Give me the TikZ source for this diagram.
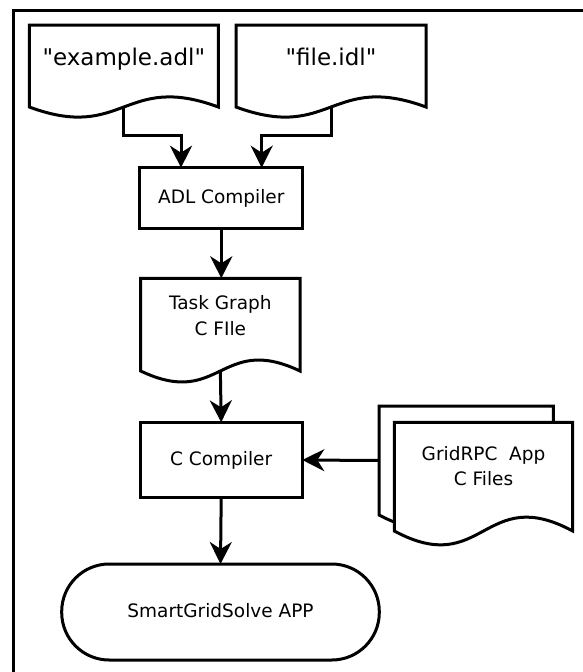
\documentclass[tikz,border=0pt]{standalone}
\usepackage{fontspec}
\setmainfont[Ligatures=TeXOff]{DejaVu Sans}
\usetikzlibrary{arrows.meta,calc}
\tikzset{
 boxn/.style={draw, line width=3pt, fill=white, inner sep=0pt, outer sep=0pt, rectangle},
 docn/.style={inner sep=0pt, outer sep=0pt, rectangle},
 big/.style={font=\fontsize{23}{27}\selectfont, anchor=base, inner sep=0pt},
 small/.style={font=\fontsize{18.5}{22}\selectfont, anchor=base, inner sep=0pt},
 arr/.style={line width=3pt, -{Stealth[length=22pt,width=22pt,inset=7pt]}},
 docline/.style={line width=3pt, line join=miter, fill=white},
}
\newcommand\docpath[2]{%
 \draw[docline] (#1.south west) -- (#1.north west) -- (#1.north east) -- (#1.south east)
   .. controls ($(#1.south)+(0,-#2)$) and ($(#1.south)+(0,#2)$) .. (#1.south west) -- cycle;}
\begin{document}
\begin{tikzpicture}[x=1pt,y=-1pt]
\useasboundingbox (0,0) rectangle (583,672);
\begin{scope}
 \clip (0,0) rectangle (583,672);
 \draw[line width=3pt] (13.3,10) rectangle (600,690);
\end{scope}

% documents
\node[docn, minimum width=189pt, minimum height=82pt] (d1) at (123.8,66) {};
\node[docn, minimum width=190pt, minimum height=82pt] (d2) at (331,66) {};
\node[docn, minimum width=159.3pt, minimum height=92.7pt] (tg) at (220.35,324.65) {};
\node[docn, minimum width=174.3pt, minimum height=109pt] (gb) at (466.15,460.5) {};
\node[docn, minimum width=178.4pt, minimum height=108.7pt] (gf) at (483.5,476.65) {};
\docpath{d1}{35}
\docpath{d2}{35}
\docpath{tg}{38}
\docpath{gb}{46}
\docpath{gf}{48}

% boxes
\node[boxn, minimum width=162.7pt, minimum height=60.6pt] (adl) at (221.3,198) {};
\node[boxn, minimum width=162.3pt, minimum height=75.4pt] (cc) at (221.2,460) {};
\node[boxn, rounded corners=47.5pt, minimum width=317.6pt, minimum height=96pt] (app) at (220.5,612) {};

% texts
\node[big] (t1) at (123.8,65) {"example.adl"};
\node[big] (t2) at (331,65) {"file.idl"};
\node[small] (t3) at (221.3,203.3) {ADL Compiler};
\node[small] (t4) at (220.35,309.3) {Task Graph};
\node[small] (t5) at (220.35,335) {C FIle};
\node[small] (t6) at (221.2,465) {C Compiler};
\node[small] (t7) at (483.5,460) {GridRPC\ \ App};
\node[small] (t8) at (483.5,485) {C Files};
\node[small] (t9) at (220.5,617.3) {SmartGridSolve APP};

% connectors
\draw[arr] (d1.south) -- ++(0,28) -| ($(adl.north)+(-40.3,0)$);
\draw[arr] (d2.south) -- ++(0,28) -| ($(adl.north)+(40.4,0)$);
\draw[arr] (adl.south) -- (adl.south |- tg.north);
\draw[arr] (tg.south) -- (cc.north);
\draw[arr] (gb.west) -- (cc.east);
\draw[arr] (cc.south) -- (app.north);
\end{tikzpicture}
\end{document}
